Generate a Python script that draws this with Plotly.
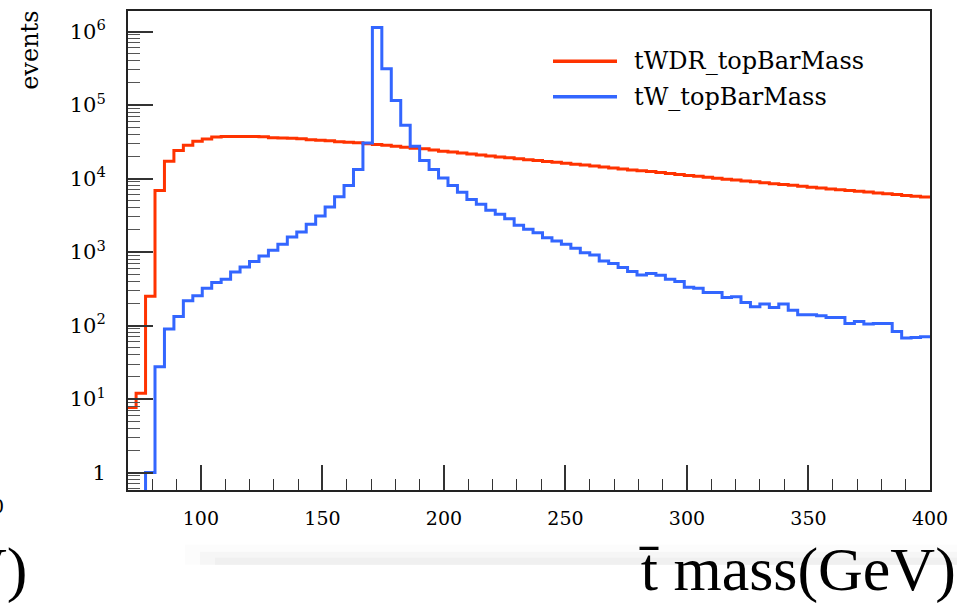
import plotly.graph_objects as go

# ---------------- data ----------------
bin_low = 50.0
bin_high = 400.0
n_bins = 90
first_visible_bin = 5

# tWDR_topBarMass, bins 5..89
twdr_counts = [
    7.7, 12, 251, 6890, 17200, 24000, 28400, 32100, 34600, 36800,
    37250, 37250, 37250, 37250, 36990, 35900, 35700, 35330, 34780, 33710,
    33190, 32670, 31680, 31190, 30700, 29760, 29020, 28390, 27520, 26670,
    25850, 25450, 24510, 23540, 22960, 22320, 21630, 20970, 20320, 19700,
    19150, 18560, 18050, 17550, 17060, 16590, 16130, 15680, 15250, 14830,
    14370, 13930, 13500, 13090, 12760, 12450, 12100, 11730, 11370, 11020,
    10710, 10380, 10090, 9810, 9540, 9280, 9020, 8770, 8500, 8290,
    8090, 7860, 7640, 7430, 7230, 7050, 6880, 6700, 6540, 6380,
    6220, 6070, 5900, 5750, 5590,
]

# tW_topBarMass, bins 5..89
tw_counts = [
    0, 0, 1, 27.6, 89.6, 133, 217, 254, 323, 385,
    428, 537, 628, 741, 885, 1057, 1275, 1603, 1874, 2385,
    3090, 4093, 5650, 8054, 13300, 30500, 1130000, 312000, 115000, 53000,
    27500, 17600, 13300, 10200, 8060, 6530, 5200, 4457, 3690, 3258,
    2838, 2310, 2038, 1834, 1568, 1415, 1276, 1127, 982, 914,
    757, 697, 614, 542, 489, 509, 484, 427, 399, 333,
    321, 281, 281, 240, 246, 206, 181, 196, 176, 196,
    162, 140, 140, 136, 129, 129, 107, 114, 105, 107,
    107, 83, 68, 69, 70.5,
]

series_names = ["tWDR_topBarMass", "tW_topBarMass"]
series_colors = ["#ff3300", "#3366ff"]

x_tick_vals = [100, 150, 200, 250, 300, 350, 400]
x_tick_text = ["100", "150", "200", "250", "300", "350", "400"]
y_tick_vals = [1, 10, 100, 1000, 10000, 100000, 1000000]
y_tick_text = ["1", "10<sup>1</sup>", "10<sup>2</sup>", "10<sup>3</sup>",
               "10<sup>4</sup>", "10<sup>5</sup>", "10<sup>6</sup>"]

x_title = "t\u0304 mass(GeV)"
y_title = "events"

# ---------------- figure ----------------
W, H = 967, 604
ML, MR, MT, MB = 128, 37, 9, 114
PW, PH = W - ML - MR, H - MT - MB


def pxx(x):
    return (x - ML) / PW


def pxy(y):
    return (H - MB - y) / PH


width = (bin_high - bin_low) / n_bins
edges = [bin_low + i * width for i in range(n_bins + 1)]
vis_edges = edges[first_visible_bin:]

fig = go.Figure()
floor = 1e-3
for name, color, counts in zip(series_names, series_colors, [twdr_counts, tw_counts]):
    yv = [max(c, floor) for c in counts]
    yv = yv + [yv[-1]]
    fig.add_trace(go.Scatter(
        x=vis_edges, y=yv, mode="lines", name=name,
        line=dict(color=color, width=3, shape="hv"),
        showlegend=False, hoverinfo="skip",
    ))

minor_y = [k * 10 ** d for d in range(-1, 7) for k in range(2, 10)]

fig.update_layout(
    width=W, height=H, autosize=False,
    margin=dict(l=ML, r=MR, t=MT, b=MB, pad=0),
    paper_bgcolor="white", plot_bgcolor="white",
    font=dict(family="DejaVu Serif", color="black", size=20),
    xaxis=dict(
        range=[70, 400], showgrid=False, zeroline=False,
        showline=True, mirror=True, linecolor="#222", linewidth=2,
        tickmode="array", tickvals=x_tick_vals, ticktext=x_tick_text,
        ticks="inside", ticklen=25, tickwidth=1.5, tickcolor="#333",
        ticklabelstandoff=10,
        tickfont=dict(family="DejaVu Serif", size=19),
        minor=dict(ticks="inside", ticklen=11, tickwidth=1.2, tickcolor="#333",
                   dtick=10, tick0=0, showgrid=False),
    ),
    yaxis=dict(
        type="log", range=[-0.2366, 6.2788], showgrid=False, zeroline=False,
        showline=True, mirror=True, linecolor="#222", linewidth=2,
        tickmode="array", tickvals=y_tick_vals, ticktext=y_tick_text,
        ticks="inside", ticklen=25, tickwidth=1.5, tickcolor="#333",
        ticklabelstandoff=16,
        tickfont=dict(family="DejaVu Serif", size=21),
        minor=dict(ticks="inside", ticklen=12, tickwidth=1.2, tickcolor="#555",
                   tickvals=minor_y, showgrid=False),
    ),
)

shapes = []
# faint shadow band under the axis labels
for x0, y0, col in [(185, 545, "#fcfcfc"), (200, 552, "#f6f6f6"), (215, 558, "#f0f0f0")]:
    shapes.append(dict(type="rect", xref="paper", yref="paper",
                       x0=pxx(x0), x1=pxx(957), y0=pxy(565), y1=pxy(y0),
                       fillcolor=col, line=dict(width=0), layer="below"))
# legend sample lines
for yy, col in [(59.5, series_colors[0]), (95, series_colors[1])]:
    shapes.append(dict(type="line", xref="paper", yref="paper",
                       x0=pxx(553), x1=pxx(617), y0=pxy(yy), y1=pxy(yy),
                       line=dict(color=col, width=3.5)))
fig.update_layout(shapes=shapes)

annotations = [
    dict(text=series_names[0], x=pxx(632), y=pxy(59.5), xanchor="left", yanchor="middle",
         font=dict(family="DejaVu Serif", size=24)),
    dict(text=series_names[1], x=pxx(632), y=pxy(95), xanchor="left", yanchor="middle",
         font=dict(family="DejaVu Serif", size=24)),
    dict(text=y_title, x=pxx(30), y=pxy(49), xanchor="center", yanchor="middle",
         textangle=-90, font=dict(family="DejaVu Serif", size=24)),
    dict(text=x_title, x=pxx(958), y=pxy(570), xanchor="right", yanchor="middle",
         font=dict(family="Liberation Serif", size=62)),
    dict(text="V)", x=pxx(29), y=pxy(570), xanchor="right", yanchor="middle",
         font=dict(family="Liberation Serif", size=62)),
    dict(text="0", x=pxx(6), y=pxy(506), xanchor="right", yanchor="middle",
         font=dict(family="DejaVu Serif", size=19)),
]
for a in annotations:
    a.update(xref="paper", yref="paper", showarrow=False)
fig.update_layout(annotations=annotations)

fig.write_html("out.html")
